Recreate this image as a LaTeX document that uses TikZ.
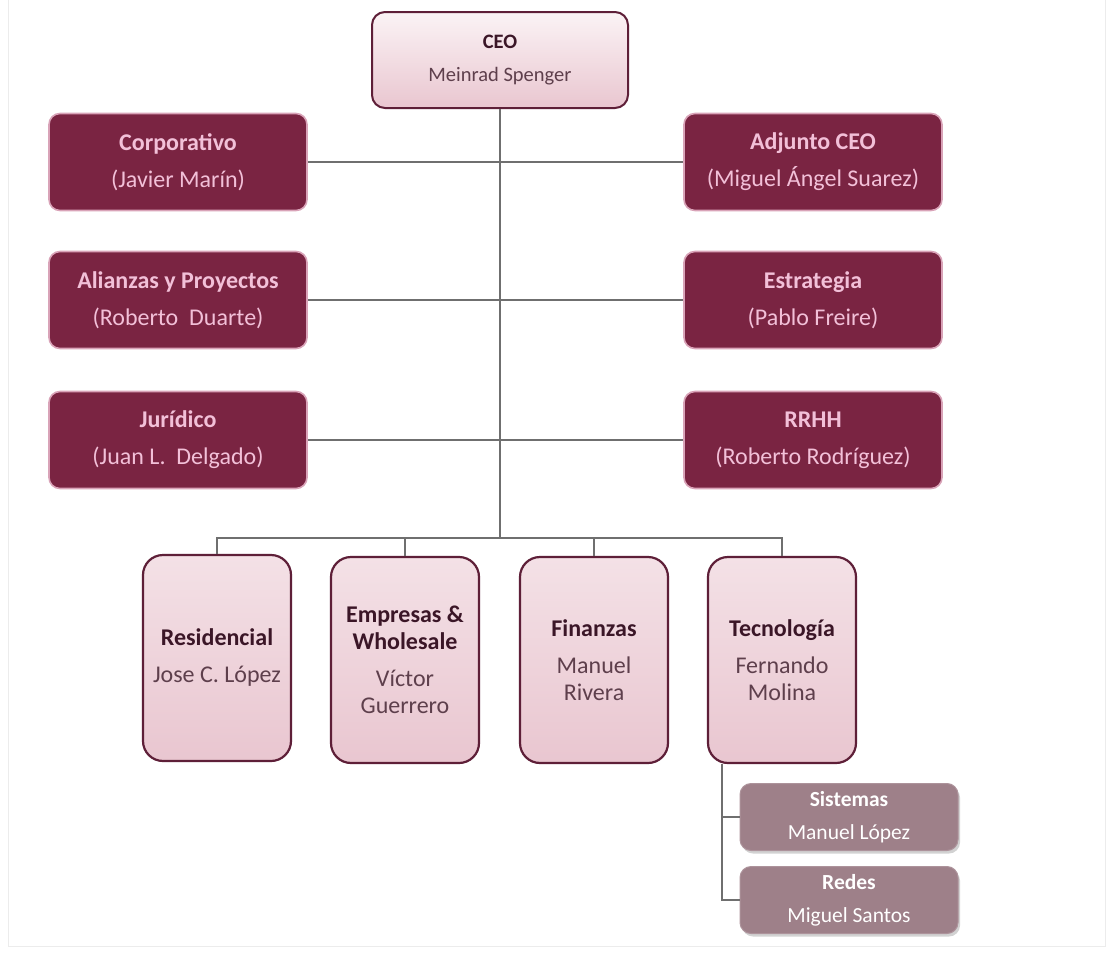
\documentclass[tikz,border=0pt]{standalone}
\usepackage{fontspec}
\setmainfont{Carlito}
\usetikzlibrary{shadows}
\definecolor{maroon}{HTML}{7A2442}
\definecolor{pinkedge}{HTML}{D9A3B8}
\definecolor{pinktext}{HTML}{F2C0D8}
\definecolor{ceoedge}{HTML}{5E1F38}
\definecolor{ceotop}{HTML}{FBF3F5}
\definecolor{ceobot}{HTML}{E9C6D0}
\definecolor{darktext}{HTML}{3B1627}
\definecolor{nametext}{HTML}{5E3F4C}
\definecolor{mauve}{HTML}{9E8089}
\definecolor{linegray}{HTML}{6F6F6F}
\tikzset{
  x=1pt, y=-1pt,
  every node/.style={font=\fontsize{24}{27}\selectfont, align=center, inner sep=0pt},
  darkbox/.style={fill=maroon, draw=pinkedge, line width=1.6pt, rounded corners=11pt,
    minimum width=258pt, minimum height=97pt, text=pinktext},
  ceobox/.style={top color=ceotop, bottom color=ceobot, draw=ceoedge, line width=2pt,
    rounded corners=13pt, minimum width=256pt, minimum height=96pt, text=nametext,
    font=\fontsize{20.5}{25}\selectfont},
  divbox/.style={top color=ceotop!60!ceobot, bottom color=ceobot, draw=ceoedge, line width=2.2pt,
    rounded corners=20pt, minimum width=148pt, minimum height=206pt, text=nametext},
  subbox/.style={fill=mauve, draw=mauve!85!white, line width=1pt, rounded corners=11pt,
    minimum width=218pt, minimum height=67pt, text=white,
    font=\fontsize{21.5}{26}\selectfont,
    drop shadow={shadow xshift=2pt, shadow yshift=-3pt, opacity=0.35}},
  conn/.style={draw=linegray, line width=1.2pt}
}
\begin{document}
\begin{tikzpicture}
\useasboundingbox (0,0) rectangle (1112,953);
\fill[white] (0,0) rectangle (1112,953);
\draw[gray!15, line width=1pt] (8,0) -- (8,946) -- (1105,946) -- (1105,0);

% CEO
\node[ceobox] (ceo) at (500,60) {\textbf{\color{darktext}CEO}\\[8pt]Meinrad Spenger};

% staff boxes
\node[darkbox] (corp) at (178,162) {\textbf{Corporativo}\\[10pt](Javier Marín)};
\node[darkbox] (adj) at (813,162) {\textbf{Adjunto CEO}\\[10pt](Miguel Ángel Suarez)};
\node[darkbox] (ali) at (178,300) {\textbf{Alianzas y Proyectos}\\[10pt](Roberto\ \ Duarte)};
\node[darkbox] (est) at (813,300) {\textbf{Estrategia}\\[10pt](Pablo Freire)};
\node[darkbox] (jur) at (178,440) {\textbf{Jurídico}\\[10pt](Juan L.\ \ Delgado)};
\node[darkbox] (rrhh) at (813,440) {\textbf{RRHH}\\[10pt](Roberto Rodríguez)};

% division boxes
\node[divbox] (res) at (217,658) {\textbf{\color{darktext}Residencial}\\[10pt]Jose C. López};
\node[divbox] (emp) at (405,660) {\textbf{\color{darktext}Empresas \&}\\\textbf{\color{darktext}Wholesale}\\[10pt]Víctor\\Guerrero};
\node[divbox] (fin) at (594,660) {\textbf{\color{darktext}Finanzas}\\[10pt]Manuel\\Rivera};
\node[divbox] (tec) at (782,660) {\textbf{\color{darktext}Tecnología}\\[10pt]Fernando\\Molina};

% sub boxes
\node[subbox] (sis) at (849,817) {\textbf{Sistemas}\\[7pt]Manuel López};
\node[subbox] (red) at (849,900) {\textbf{Redes}\\[7pt]Miguel Santos};

% connectors
\coordinate (bus) at (500,538);
\draw[conn] (ceo.south) -- (bus);
\draw[conn] (corp.east) -- (adj.west);
\draw[conn] (ali.east) -- (est.west);
\draw[conn] (jur.east) -- (rrhh.west);
\draw[conn] (res.north) |- (bus) -| (tec.north);
\draw[conn] (emp.north) -- (emp.north |- bus);
\draw[conn] (fin.north) -- (fin.north |- bus);
\coordinate (tdrop) at ([xshift=-60pt]tec.south);
\draw[conn] (tdrop) |- (red.west);
\draw[conn] (tdrop |- sis.west) -- (sis.west);
\end{tikzpicture}
\end{document}
